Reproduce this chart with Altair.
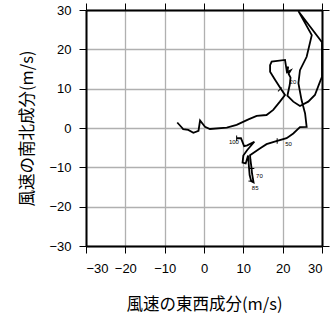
import altair as alt
import pandas as pd

# hodograph: east-west (u) and north-south (v) wind components, in path order
u = [8.3, 9.4, 10.2, 11.0, 12.8, 11.0, 10.0, 9.8, 10.6, 11.2, 11.4, 11.6, 12.0, 12.6, 12.2, 12.1,
     11.8, 11.7, 14.2, 15.9, 18.6, 21.0, 22.7, 24.4, 26.1, 25.7, 24.8, 24.0, 24.4, 26.1, 27.4,
     24.0, 30.0, 30.0, 30.0, 29.5, 28.2, 26.5, 24.4, 22.7, 21.2, 21.8, 22.0, 21.5, 22.0, 21.2,
     21.4, 21.0, 20.6, 17.2, 16.8, 16.8, 18.1, 19.7, 20.6, 19.3, 17.6, 15.9, 13.4, 11.3, 8.3,
     5.8, 1.5, 0.25, -1.0, -1.4, -2.7, -4.0, -5.3, -5.7, -6.8]
v = [-2.6, -2.6, -4.6, -4.4, -3.5, -5.6, -7.0, -8.8, -9.0, -7.0, -9.5, -12.0, -13.5, -13.8, -11.5, -10.3,
     -8.0, -6.9, -5.2, -4.1, -3.3, -2.6, -1.4, 0.2, 0.3, 3.7, 7.1, 11.4, 14.7, 18.1, 23.6,
     29.7, 21.8, 16.0, 13.0, 11.8, 8.4, 6.7, 5.6, 6.7, 8.2, 11.0, 12.8, 13.8, 14.6, 14.2,
     15.6, 14.7, 17.3, 16.9, 16.0, 14.3, 12.2, 9.7, 8.4, 6.7, 4.6, 3.3, 3.1, 2.2, 0.8,
     0.1, -0.25, 0.3, 1.9, -0.7, -1.2, -0.5, -0.3, 0.2, 1.4]

# pressure-level labels (x10 hPa)
lab_text = ["100", "85", "70", "50", "20"]
lab_u = [7.6, 13.0, 14.1, 21.5, 22.6]
lab_v = [-3.6, -15.3, -12.2, -4.1, 11.7]
tick_u = [8.3, 12.0, 12.1, 18.6, 19.3]
tick_v = [-2.6, -13.5, -10.3, -3.3, 9.8]
tick_ang = [0, 90, 90, 0, 45]

ticks = [-30, -20, -10, 0, 10, 20, 30]

df = pd.DataFrame({"i": list(range(len(u))), "u": u, "v": v})
lab_df = pd.DataFrame({"t": lab_text, "u": lab_u, "v": lab_v})
tk_df = pd.DataFrame({"u": tick_u, "v": tick_v, "a": tick_ang})

xs = alt.Scale(domain=[-30, 30], nice=False, zero=False)
ys = alt.Scale(domain=[-30, 30], nice=False, zero=False)

base_ax = dict(values=ticks, tickColor="black", tickSize=7, tickWidth=1,
               domain=True, domainColor="black", domainWidth=2,
               labelFont="Liberation Sans", labelFontSize=13, labelColor="black")
title_ax = dict(titleFont="Noto Sans CJK JP", titleFontSize=16.5, titleFontWeight="normal",
                titleColor="black")

line = alt.Chart(df).mark_line(color="black", strokeWidth=1.8, clip=True).encode(
    x=alt.X("u:Q", scale=xs, axis=alt.Axis(title="風速の東西成分(m/s)", orient="bottom",
                                           grid=True, gridColor="#b0b0b0", gridWidth=1.3,
                                           labelPadding=9, titlePadding=21, **base_ax, **title_ax)),
    y=alt.Y("v:Q", scale=ys, axis=alt.Axis(title="風速の南北成分(m/s)", orient="left",
                                           grid=True, gridColor="#b0b0b0", gridWidth=1.3,
                                           labelPadding=8, titlePadding=13, **base_ax, **title_ax)),
    order="i:Q",
)

marks = alt.Chart(tk_df).mark_point(shape="M0,-1L0,1", size=30, filled=False, color="black",
                                    strokeWidth=1, opacity=1).encode(
    x=alt.X("u:Q", scale=xs, axis=alt.Axis(orient="top", labels=False, title=None, grid=False, **base_ax)),
    y=alt.Y("v:Q", scale=ys, axis=alt.Axis(orient="right", labels=False, title=None, grid=False, **base_ax)),
    angle=alt.Angle("a:Q", scale=None),
)

labels = alt.Chart(lab_df).mark_text(font="Liberation Sans", fontSize=6, fill="black",
                                     color="black").encode(
    x=alt.X("u:Q", scale=xs, axis=None),
    y=alt.Y("v:Q", scale=ys, axis=None),
    text="t:N",
)

chart = alt.layer(line, marks, labels).resolve_axis(x="independent", y="independent").properties(
    width=236, height=236,
    padding={"left": 86, "top": 10, "right": 10, "bottom": 73},
    autosize=alt.AutoSizeParams(type="none"),
).configure_view(strokeWidth=0)

chart.save("out.html", embed_options={"renderer": "svg", "actions": False})
